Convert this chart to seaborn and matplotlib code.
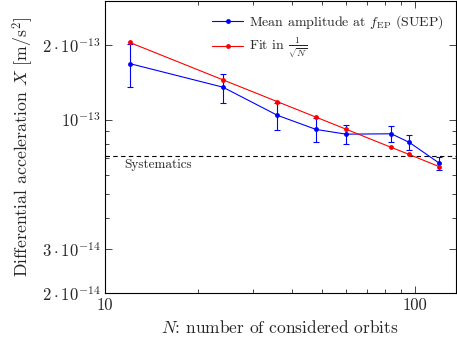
import numpy as np
import pandas as pd
import matplotlib
matplotlib.use("Agg")
import matplotlib.pyplot as plt
import seaborn as sns
from matplotlib.ticker import FixedLocator, NullFormatter, LogLocator

# data (values in 1e-13 m/s^2)
orbits = [12, 24, 36, 48, 60, 84, 96, 120]
mean_amp = [1.68, 1.35, 1.04, 0.912, 0.873, 0.876, 0.809, 0.667]
mean_err = [0.33, 0.18, 0.13, 0.10, 0.074, 0.065, 0.057, 0.040]
fit_vals = [2.044, 1.445, 1.18, 1.022, 0.914, 0.772, 0.723, 0.646]
systematics = 0.71

ytick_vals = [2e-14, 3e-14, 1e-13, 2e-13]
ytick_labels = [r"$2\cdot10^{-14}$", r"$3\cdot10^{-14}$", r"$10^{-13}$", r"$2\cdot10^{-13}$"]
xtick_vals = [10, 100]
xtick_labels = ["10", "100"]

df = pd.DataFrame({
    "N": orbits,
    "mean": np.array(mean_amp) * 1e-13,
    "err": np.array(mean_err) * 1e-13,
    "fit": np.array(fit_vals) * 1e-13,
})

sns.set_style("ticks")
plt.rcParams["font.family"] = "serif"
plt.rcParams["font.serif"] = ["cmr10"]
plt.rcParams["mathtext.fontset"] = "cm"
plt.rcParams["axes.formatter.use_mathtext"] = True
plt.rcParams["axes.unicode_minus"] = False

fig, ax = plt.subplots(figsize=(4.57, 3.42), dpi=100)
fig.subplots_adjust(left=0.23, right=0.997, bottom=0.143, top=0.997)

ax.errorbar(df["N"], df["mean"], yerr=df["err"], fmt="none", ecolor="blue",
            elinewidth=0.8, capsize=2, capthick=0.8, zorder=2)
sns.lineplot(data=df, x="N", y="mean", color="blue", marker="o", markersize=3.5,
             markeredgewidth=0, linewidth=0.8, ax=ax, zorder=3,
             label=r"Mean amplitude at $f_{\mathrm{EP}}$ (SUEP)")
sns.lineplot(data=df, x="N", y="fit", color="red", marker="o", markersize=3.5,
             markeredgewidth=0, linewidth=0.8, ax=ax, zorder=4,
             label=r"Fit in $\frac{1}{\sqrt{N}}$")

ax.axhline(systematics * 1e-13, color="black", linestyle=(0, (4, 3)), linewidth=0.8, zorder=1)
ax.text(11.5, 6.55e-14, "Systematics", fontsize=9.5, ha="left", va="center")

ax.set_xscale("log")
ax.set_yscale("log")
ax.set_xlim(10, 135.5)
ax.set_ylim(2e-14, 3e-13)

ax.xaxis.set_major_locator(FixedLocator(xtick_vals))
ax.set_xticklabels(xtick_labels)
ax.xaxis.set_minor_locator(LogLocator(base=10, subs=np.arange(2, 10)))
ax.xaxis.set_minor_formatter(NullFormatter())
ax.yaxis.set_major_locator(FixedLocator(ytick_vals))
ax.set_yticklabels(ytick_labels)
ax.yaxis.set_minor_locator(LogLocator(base=10, subs=np.arange(2, 10)))
ax.yaxis.set_minor_formatter(NullFormatter())

ax.tick_params(which="both", direction="in", top=True, right=True, labelsize=12, width=0.6)
ax.tick_params(which="major", length=5)
ax.tick_params(which="minor", length=3)
for s in ax.spines.values():
    s.set_linewidth(0.8)
    s.set_color("black")

ax.set_xlabel(r"$N$: number of considered orbits", fontsize=12.5)
ax.set_ylabel(r"Differential acceleration $X$ [m/s$^2$]", fontsize=12.8)

ax.legend(loc="upper right", bbox_to_anchor=(1.0, 1.0), frameon=False, fontsize=10,
          handlelength=2.2, handletextpad=0.4, labelspacing=0.3)

fig.savefig("out.png", dpi=100)
